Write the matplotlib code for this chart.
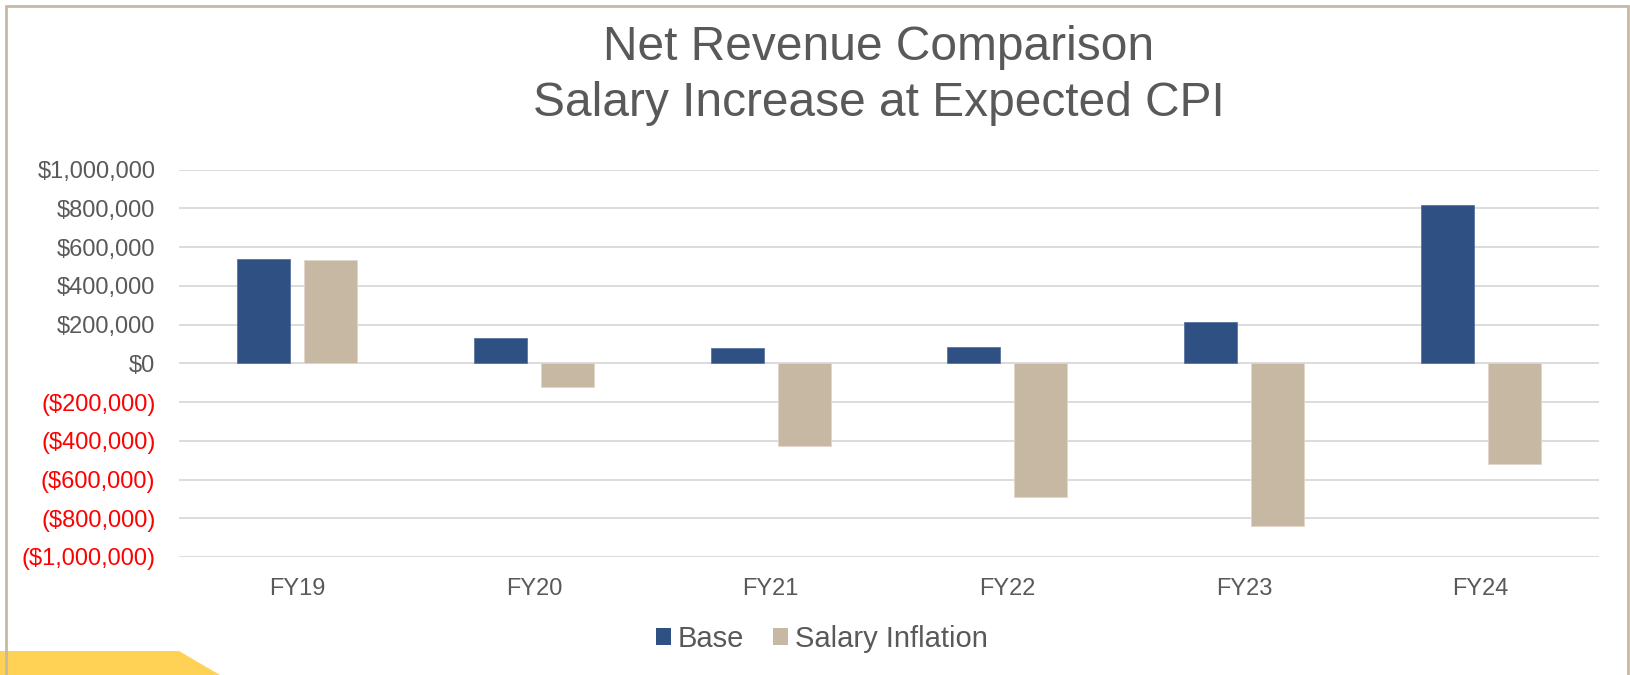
import matplotlib.pyplot as plt
import numpy as np
from matplotlib.patches import Patch, Rectangle, Polygon

plt.rcParams["font.family"] = ["Liberation Sans", "DejaVu Sans"]

# data
years = ["FY19", "FY20", "FY21", "FY22", "FY23", "FY24"]
base = [537000, 129000, 80000, 85000, 214000, 815000]
salary_inflation = [535000, -121000, -428000, -692000, -838000, -521000]
yticks = np.arange(-1000000, 1000001, 200000)

W, H = 1630, 675
fig = plt.figure(figsize=(W / 100, H / 100), dpi=100)
ax = fig.add_axes([179 / W, 1 - 557 / H, (1599 - 179) / W, (557 - 169.6) / H])

x = np.arange(len(years))
bw = 0.224
off = 0.1415
ax.bar(x - off, base, bw, color="#2F5083", edgecolor="#5a74a0", linewidth=0.6, zorder=3)
ax.bar(x + off, salary_inflation, bw, color="#C7B8A3", edgecolor="#e0d6c8", linewidth=0.6, zorder=3)

ax.set_xlim(-0.5, len(years) - 0.5)
ax.set_ylim(-1000000, 1000000)
ax.set_yticks(yticks)
labels = []
for v in yticks:
    if v < 0:
        labels.append("(${:,.0f})".format(-v))
    else:
        labels.append("${:,.0f}".format(v))
ax.set_yticklabels(labels)
for lab, v in zip(ax.get_yticklabels(), yticks):
    lab.set_color("red" if v < 0 else "#595959")
ax.set_xticks(x)
ax.set_xticklabels(years, color="#595959")
ax.tick_params(axis="y", length=0, pad=17, labelsize=17)
ax.tick_params(axis="x", length=0, pad=15, labelsize=17)
ax.grid(axis="y", color="#d9d9d9", linewidth=1.3, zorder=0)
for s in ax.spines.values():
    s.set_visible(False)

fig.text(879 / W, 1 - 48 / H, "Net Revenue Comparison", ha="center", va="center",
         fontsize=34.5, color="#595959")
fig.text(879 / W, 1 - 104 / H, "Salary Increase at Expected CPI", ha="center", va="center",
         fontsize=34.5, color="#595959")

handles = [Patch(facecolor="#2F5083", label="Base"),
           Patch(facecolor="#C7B8A3", label="Salary Inflation")]
leg = fig.legend(handles=handles, loc="center", bbox_to_anchor=(822 / W, 1 - 639 / H),
                 ncol=2, frameon=False, fontsize=21, handlelength=0.5, handleheight=0.5,
                 handletextpad=0.25, columnspacing=1.0)
for t in leg.get_texts():
    t.set_color("#595959")

# slide frame and accent
fig.patches.append(Polygon([(0, 1 - 651 / H), (179 / W, 1 - 651 / H), (220 / W, 0), (0, 0)],
                           closed=True, transform=fig.transFigure, facecolor="#FFD155",
                           edgecolor="none", zorder=0))
fig.patches.append(Rectangle((6 / W, -0.05), (1628 - 6) / W, 1.05 - 6 / H, transform=fig.transFigure,
                             fill=False, edgecolor="#C9B8A3", linewidth=2.0, zorder=1))

fig.savefig("out.png", dpi=100)
